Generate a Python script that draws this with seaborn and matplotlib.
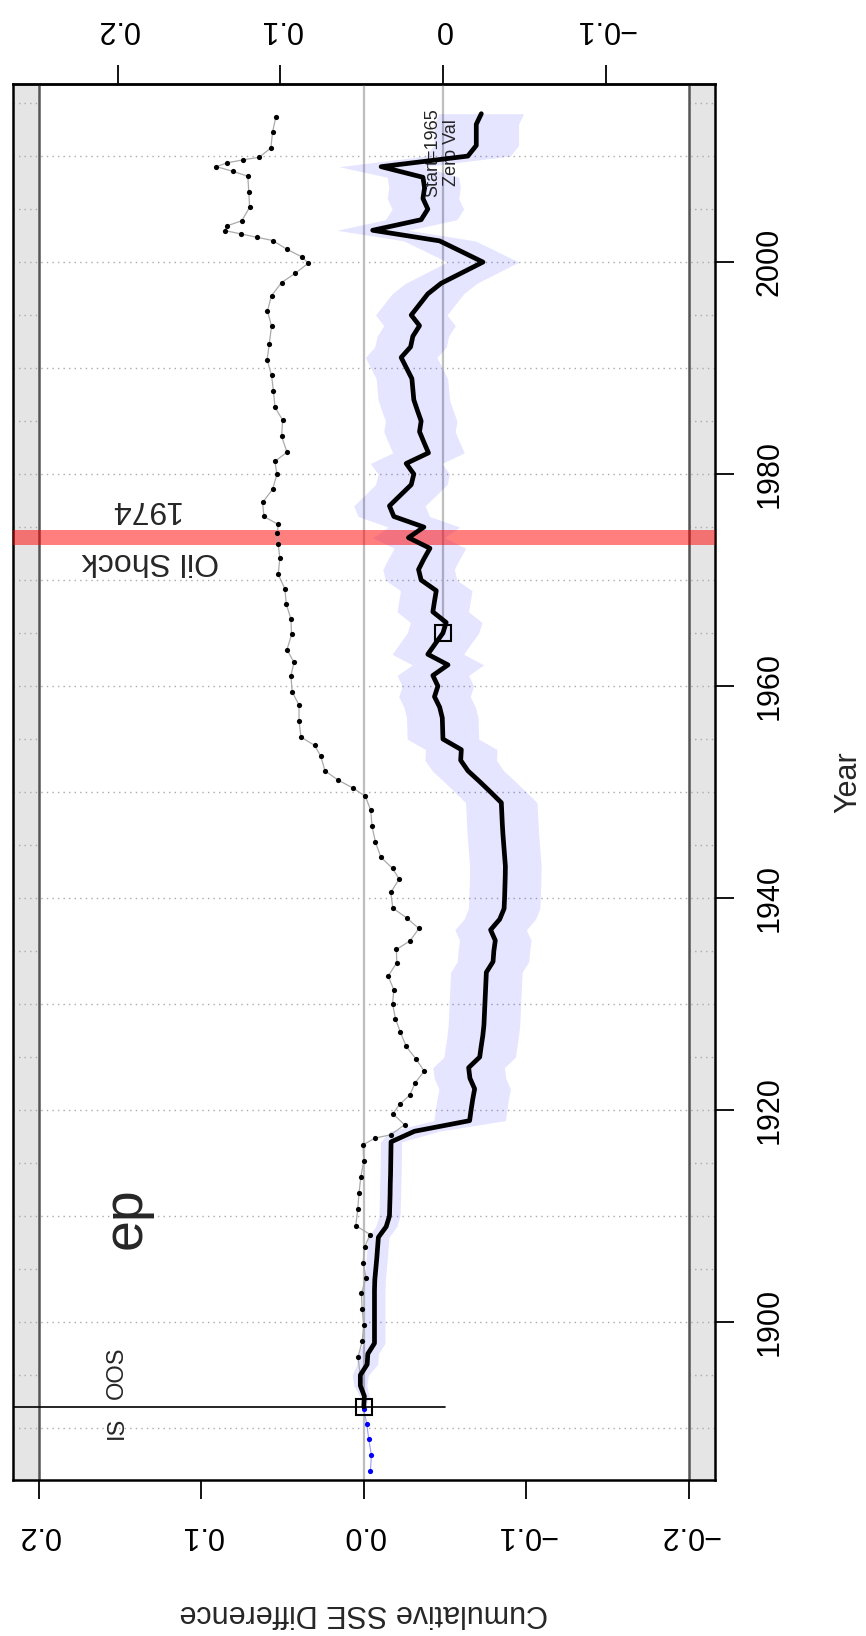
import matplotlib
matplotlib.use("Agg")
import matplotlib.pyplot as plt
import seaborn as sns
import numpy as np

# ---------------- data ----------------
years = list(range(1892, 2015))
cum_sse = [
    0.0, -0.0004, 0.0021, 0.0021, -0.0021, -0.0025, -0.0066, -0.0066,           # 1892-1899
    -0.0066, -0.0066, -0.0066, -0.0066, -0.0068, -0.0074, -0.0080, -0.0085,      # 1900-1907
    -0.0090, -0.0138, -0.0158, -0.0160, -0.0162, -0.0163, -0.0165, -0.0166,      # 1908-1915
    -0.0167, -0.0168, -0.0312, -0.0651, -0.0660, -0.0670, -0.0682, -0.0653,      # 1916-1923
    -0.0645, -0.0713, -0.0722, -0.0732, -0.0739, -0.0742, -0.0745, -0.0748,      # 1924-1931
    -0.0751, -0.0754, -0.0795, -0.0800, -0.0809, -0.0780, -0.0836, -0.0863,      # 1932-1939
    -0.0866, -0.0868, -0.0870, -0.0871, -0.0866, -0.0861, -0.0856, -0.0852,      # 1940-1947
    -0.0849, -0.0846, -0.0780, -0.0712, -0.0641, -0.0596, -0.0600, -0.0487,      # 1948-1955
    -0.0485, -0.0483, -0.0467, -0.0435, -0.0456, -0.0425, -0.0518, -0.0394,      # 1956-1963
    -0.0440, -0.0487, -0.0507, -0.0425, -0.0435, -0.0446, -0.0353, -0.0337,      # 1964-1971
    -0.0370, -0.0407, -0.0275, -0.0370, -0.0185, -0.0158, -0.0225, -0.0292,      # 1972-1979
    -0.0308, -0.0261, -0.0398, -0.0370, -0.0343, -0.0353, -0.0330, -0.0308,      # 1980-1987
    -0.0302, -0.0296, -0.0263, -0.0230, -0.0288, -0.0302, -0.0343, -0.0292,      # 1988-1995
    -0.0343, -0.0394, -0.0476, -0.0605, -0.0733, -0.0600, -0.0466, -0.0055,      # 1996-2003
    -0.0353, -0.0394, -0.0364, -0.0374, -0.0364, -0.0107, -0.0640, -0.0692,      # 2004-2011
    -0.0692, -0.0692, -0.0723,                                                  # 2012-2014
]
band_half = ([0.001, 0.003, 0.004, 0.005] + [0.0065] * 22 + [0.015]
             + [0.022] * 90 + [0.026] * 6)

oos_dot_years = [1892.05, 1896.72, 1898.17, 1899.68, 1901.19, 1902.73, 1904.14, 1905.59,
                 1907.10, 1908.26, 1909.10, 1910.65, 1912.20, 1913.70, 1915.18, 1916.72,
                 1917.35, 1917.67, 1918.61, 1919.65, 1920.53, 1921.41, 1922.57, 1923.67,
                 1924.80, 1926.00, 1927.40, 1928.62, 1930.03, 1931.35, 1932.64, 1933.90,
                 1935.15, 1935.97, 1937.13, 1938.14, 1939.05, 1940.53, 1941.79, 1942.80,
                 1943.86, 1945.28, 1946.76, 1948.27, 1949.60, 1950.40, 1951.13, 1952.00,
                 1953.40, 1954.40, 1955.19, 1956.70, 1958.20, 1959.46, 1960.97, 1962.23,
                 1963.43, 1964.87, 1966.32, 1967.73, 1969.18, 1970.53, 1972.08, 1973.36,
                 1974.40, 1975.25, 1976.00, 1977.33, 1978.55, 1979.97, 1981.20, 1982.07,
                 1983.55, 1985.10, 1986.30, 1987.80, 1989.30, 1990.80, 1992.30, 1993.95,
                 1995.40, 1996.84, 1998.07, 1998.95, 1999.89, 2000.50, 2001.20, 2002.03,
                 2002.34, 2002.66, 2002.97, 2003.40, 2003.90, 2005.17, 2006.65, 2008.10,
                 2008.57, 2009.00, 2009.36, 2009.64, 2009.89, 2010.77, 2012.25, 2013.73]
oos_dot_vals = [0.0, 0.0035, 0.0010, 0.0, 0.0010, 0.0014, -0.0014, 0.0004,
                -0.0006, -0.0039, 0.0049, 0.0037, 0.0029, 0.0018, 0.0, 0.0004,
                -0.0068, -0.0166, -0.0251, -0.0179, -0.0220, -0.0283, -0.0316, -0.0372,
                -0.0322, -0.0261, -0.0224, -0.0195, -0.0177, -0.0185, -0.0150, -0.0203,
                -0.0201, -0.0285, -0.0339, -0.0263, -0.0179, -0.0166, -0.0218, -0.0177,
                -0.0105, -0.0072, -0.0051, -0.0043, -0.0010, 0.0068, 0.0158, 0.0238,
                0.0265, 0.0302, 0.0386, 0.0398, 0.0398, 0.0440, 0.0448, 0.0429,
                0.0472, 0.0444, 0.0448, 0.0476, 0.0485, 0.0526, 0.0516, 0.0526,
                0.0532, 0.0526, 0.0614, 0.0622, 0.0561, 0.0534, 0.0546, 0.0472,
                0.0505, 0.0499, 0.0546, 0.0555, 0.0567, 0.0594, 0.0581, 0.0567,
                0.0592, 0.0567, 0.0505, 0.0421, 0.0341, 0.0382, 0.0472, 0.0559,
                0.0657, 0.0756, 0.0854, 0.0844, 0.0750, 0.0702, 0.0707, 0.0713,
                0.0807, 0.0906, 0.0842, 0.0743, 0.0643, 0.0571, 0.0561, 0.0540]
is_dot_years = [1885.97, 1887.45, 1888.95, 1890.43, 1891.80]
is_dot_vals = [-0.0041, -0.0047, -0.0031, -0.0018, 0.0]

left_ticks = [0.2, 0.1, 0.0, -0.1, -0.2]
left_ticklabels = ["0.2", "0.1", "0.0", "\u22120.1", "\u22120.2"]
top_ticks = [0.2, 0.1, 0.0, -0.1]
top_ticklabels = ["0.2", "0.1", "0", "\u22120.1"]
year_ticks = [1900, 1920, 1940, 1960, 1980, 2000]
year_ticklabels = ["1900", "1920", "1940", "1960", "1980", "2000"]
oos_start = 1892
zero_year = 1965
shock_year = 1974

# ---------------- figure ----------------
sns.set_theme(style="white")
plt.rcParams["font.family"] = ["Liberation Sans", "DejaVu Sans"]

W, H = 866, 1636
fig = plt.figure(figsize=(W / 100, H / 100), dpi=100)
L, R, T, B = 12.5, 715, 84, 1480
ax = fig.add_axes([L / W, (H - B) / H, (R - L) / W, (B - T) / H])
ax.set_xlim(0.216, -0.216)
ax.set_ylim(1885.1, 2016.8)

zero_val = cum_sse[years.index(zero_year)]
yrs = np.array(years)
vals = np.array(cum_sse)
half = np.array(band_half)

# grey strips beyond +-0.2
ax.axvspan(0.2, 0.3, color="#E5E5E5", lw=0, zorder=0)
ax.axvspan(-0.2, -0.3, color="#E5E5E5", lw=0, zorder=0)
# grid lines
for g in range(1885, 2020, 5):
    if g % 10 == 0:
        ax.axhline(g, color="#AAAAAA", lw=1, ls=(0, (1, 3)), zorder=1)
    else:
        ax.plot([0.216, 0.2], [g, g], color="#AAAAAA", lw=1, ls=(0, (1, 3)), zorder=1)
        ax.plot([-0.2, -0.216], [g, g], color="#AAAAAA", lw=1, ls=(0, (1, 3)), zorder=1)
ax.axvline(0.2, color="#555555", lw=1.8, zorder=2)
ax.axvline(-0.2, color="#555555", lw=1.8, zorder=2)
ax.axvline(0.0, color="#BEBEBE", lw=1.6, zorder=2)
ax.plot([zero_val, zero_val], [zero_year, 2016.8], color="#BEBEBE", lw=1.6, zorder=2)

# confidence band
ax.fill_betweenx(yrs, vals - half, vals + half, color=(0, 0, 1, 0.1), lw=0, zorder=3)
# oil shock
ax.axhspan(shock_year - 0.7, shock_year + 0.7, color=(1, 0, 0, 0.5), lw=0, zorder=4)

# dotted series
sns.lineplot(x=oos_dot_vals, y=oos_dot_years, sort=False, estimator=None, ax=ax,
             color="#AAAAAA", lw=0.9, zorder=5)
sns.scatterplot(x=oos_dot_vals[1:], y=oos_dot_years[1:], ax=ax, color="black",
                s=14, linewidth=0, zorder=6)
sns.lineplot(x=is_dot_vals, y=is_dot_years, sort=False, estimator=None, ax=ax,
             color="#9999FF", lw=0.8, zorder=5)
sns.scatterplot(x=is_dot_vals, y=is_dot_years, ax=ax, color="blue",
                s=14, linewidth=0, zorder=6)

# main line
sns.lineplot(x=cum_sse, y=years, sort=False, estimator=None, ax=ax,
             color="black", lw=3.4, zorder=7)
ax.plot([0.216, -0.05], [oos_start, oos_start], color="black", lw=1.2, zorder=7)
ax.plot([0.0, zero_val], [oos_start, zero_year], ls="none", marker="s", ms=11,
        mfc="none", mec="black", mew=1.5, zorder=8)

# texts
ax.text(0.146, 1909.8, "ep", rotation=90, fontsize=40, ha="center", va="center")
ax.text(0.152, 1890.0, "IS", rotation=90, fontsize=17, ha="center", va="center")
ax.text(0.152, 1895.25, "OOS", rotation=90, fontsize=17, ha="center", va="center")
ax.text(0.131, 1971.8, "Oil Shock", rotation=180, fontsize=23, ha="center", va="center")
ax.text(0.135, 1976.7, "1974", rotation=180, fontsize=23, ha="center", va="center")
ax.text(-0.0424, 2010.35, "Start=1965", rotation=90, fontsize=13, ha="center", va="center")
ax.text(-0.0541, 2010.35, "Zero Val", rotation=90, fontsize=13, ha="center", va="center")

# axes
ax.set_xlabel("")
ax.set_ylabel("")
ax.grid(False)
for s in ax.spines.values():
    s.set_color("black")
    s.set_linewidth(1.8)
ax.set_xticks(left_ticks)
ax.set_xticklabels(left_ticklabels)
ax.tick_params(axis="x", bottom=True, top=False, length=13.7, width=1.3,
               pad=15, labelsize=22, labelrotation=180, colors="black")
ax.yaxis.tick_right()
ax.set_yticks(year_ticks)
ax.set_yticklabels(year_ticklabels)
ax.tick_params(axis="y", right=True, left=False, length=13.7, width=1.3,
               pad=15, labelsize=22, labelrotation=90, colors="black")
for lab in ax.get_yticklabels():
    lab.set_va("center")

secax = ax.secondary_xaxis("top", functions=(lambda v: v - zero_val, lambda r: r + zero_val))
secax.set_xticks(top_ticks)
secax.set_xticklabels(top_ticklabels)
secax.tick_params(length=13.7, width=1.3, pad=15, labelsize=22, labelrotation=180,
                  colors="black")
secax.spines["top"].set_linewidth(1.8)

fig.text(((L + R) / 2) / W, (H - 1613) / H, "Cumulative SSE Difference",
         rotation=180, fontsize=22, ha="center", va="center")
fig.text(848 / W, (H - (T + B) / 2) / H, "Year", rotation=90, fontsize=22,
         ha="center", va="center")

fig.savefig("out.png", dpi=100)
